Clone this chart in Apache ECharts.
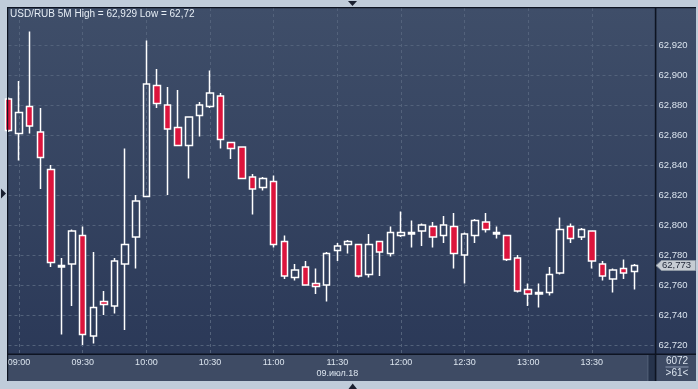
<!DOCTYPE html>
<html><head><meta charset="utf-8">
<script src="https://cdn.jsdelivr.net/npm/echarts@6/dist/echarts.min.js"></script>
<style>html,body{margin:0;padding:0;background:#c0ccda;}#c{width:698px;height:389px;}</style>
</head><body><div id="c"></div>
<script>
const categories = ['08:55','09:00','09:05','09:10','09:15','09:20','09:25','09:30','09:35','09:40','09:45','09:50','09:55',
'10:00','10:05','10:10','10:15','10:20','10:25','10:30','10:35','10:40','10:45','10:50','10:55',
'11:00','11:05','11:10','11:15','11:20','11:25','11:30','11:35','11:40','11:45','11:50','11:55',
'12:00','12:05','12:10','12:15','12:20','12:25','12:30','12:35','12:40','12:45','12:50','12:55',
'13:00','13:05','13:10','13:15','13:20','13:25','13:30','13:35','13:40','13:45','13:50','13:55','14:00'];
const openVals  = [62.884,62.861,62.879,62.862,62.837,62.772,62.774,62.793,62.726,62.749,62.746,62.774,62.792,
62.819,62.893,62.880,62.865,62.853,62.873,62.879,62.886,62.855,62.852,62.832,62.825,
62.829,62.789,62.765,62.772,62.761,62.760,62.783,62.787,62.787,62.767,62.789,62.781,
62.793,62.794,62.796,62.799,62.793,62.799,62.780,62.793,62.802,62.795,62.793,62.778,
62.757,62.755,62.755,62.768,62.799,62.792,62.796,62.774,62.764,62.771,62.769];
const closeVals = [62.863,62.875,62.866,62.845,62.775,62.773,62.796,62.727,62.745,62.747,62.776,62.787,62.816,
62.894,62.881,62.864,62.853,62.872,62.880,62.888,62.857,62.851,62.831,62.824,62.831,
62.787,62.766,62.770,62.760,62.759,62.781,62.786,62.789,62.766,62.787,62.782,62.795,
62.795,62.795,62.800,62.792,62.800,62.781,62.794,62.803,62.797,62.794,62.777,62.756,
62.754,62.754,62.767,62.797,62.791,62.797,62.776,62.766,62.770,62.768,62.773];
const lowVals   = [62.862,62.843,62.861,62.824,62.772,62.727,62.746,62.720,62.721,62.740,62.741,62.730,62.771,
62.819,62.878,62.820,62.853,62.831,62.859,62.878,62.851,62.844,62.831,62.807,62.823,
62.785,62.764,62.763,62.760,62.754,62.749,62.776,62.781,62.765,62.765,62.766,62.779,
62.792,62.785,62.786,62.785,62.788,62.771,62.761,62.788,62.795,62.791,62.776,62.755,
62.746,62.745,62.753,62.767,62.788,62.790,62.771,62.763,62.755,62.764,62.757];
const highVals  = [62.885,62.896,62.929,62.878,62.840,62.778,62.797,62.799,62.782,62.756,62.778,62.851,62.820,
62.923,62.904,62.892,62.890,62.872,62.882,62.903,62.888,62.855,62.852,62.834,62.832,
62.833,62.793,62.774,62.776,62.771,62.782,62.788,62.790,62.787,62.794,62.789,62.799,
62.809,62.803,62.801,62.802,62.806,62.808,62.795,62.804,62.808,62.799,62.793,62.780,
62.761,62.761,62.772,62.805,62.801,62.798,62.796,62.776,62.771,62.777,62.774];
const timeLabels = ['09:00','09:30','10:00','10:30','11:00','11:30','12:00','12:30','13:00','13:30'];
const dateAnchor = '11:30';
const dateLabel = '09.июл.18';
const yTicks = [62.72,62.74,62.76,62.78,62.80,62.82,62.84,62.86,62.88,62.90,62.92];
const titleText = 'USD/RUB 5M High = 62,929 Low = 62,72';
const lastPrice = 62.773;
const counterTop = '6072';
const counterBottom = '>61<';

const FONT = '"Liberation Sans", Arial, sans-serif';
const LBL = '#dbe4ee';
const fmt = v => v.toFixed(3).replace('.', ',');
const candleData = openVals.map((o, i) => [o, closeVals[i], lowVals[i], highVals[i]]);

const chart = echarts.init(document.getElementById('c'), null, {renderer: 'canvas'});
chart.setOption({
  animation: false,
  backgroundColor: '#c0ccda',
  title: {text: titleText, left: 10, top: 9, padding: 0,
    textStyle: {color: '#e6edf5', fontSize: 10, fontWeight: 'normal', fontFamily: FONT}},
  grid: {left: 8.5, right: 42.5, top: 8, bottom: 35},
  xAxis: {
    type: 'category', data: categories, boundaryGap: false,
    axisLine: {show: false}, axisTick: {show: false},
    axisLabel: {interval: (i, v) => timeLabels.includes(v),
      formatter: v => v === dateAnchor ? v + '\n' + dateLabel : v,
      color: LBL, fontSize: 9, fontFamily: FONT, margin: 3.5, lineHeight: 10.5},
    splitLine: {show: true, interval: (i, v) => timeLabels.includes(v),
      lineStyle: {color: '#53627b', type: [3, 3], width: 1}}
  },
  yAxis: {
    type: 'value', position: 'right', min: 62.714, max: 62.944667,
    axisLine: {show: false},
    axisTick: {show: false, customValues: yTicks},
    axisLabel: {customValues: yTicks, formatter: fmt, color: LBL, fontSize: 9.5, fontFamily: FONT, margin: 3},
    splitLine: {show: true, lineStyle: {color: '#53627b', type: [3, 3], width: 1}}
  },
  series: [{
    type: 'candlestick', data: candleData, barWidth: 7, clip: true,
    itemStyle: {color: 'rgba(0,0,0,0)', color0: '#dc143c', borderColor: '#ffffff', borderColor0: '#ffffff', borderWidth: 1.5}
  }]
});

const py = chart.convertToPixel({yAxisIndex: 0}, lastPrice);
const dark = '#0e1422';
chart.setOption({
  graphic: [
    {type: 'rect', z: -10, shape: {x: 8, y: 8, width: 688, height: 346},
      style: {fill: new echarts.graphic.LinearGradient(0, 0, 0, 1, [{offset: 0, color: '#3f4e69'}, {offset: 1, color: '#2b3958'}])}},
    {type: 'rect', z: -10, shape: {x: 8, y: 355, width: 688, height: 26}, style: {fill: '#3e4b64'}},
    {type: 'rect', z: -9, shape: {x: 647, y: 355, width: 8, height: 26}, style: {fill: '#26334b'}},
    {type: 'rect', z: -9, shape: {x: 647, y: 355, width: 1.5, height: 26}, style: {fill: '#4a5870'}},
    {type: 'rect', z: 50, shape: {x: 7, y: 7, width: 689, height: 1.2}, style: {fill: dark}},
    {type: 'rect', z: 50, shape: {x: 7, y: 7, width: 1.2, height: 374}, style: {fill: dark}},
    {type: 'rect', z: 50, shape: {x: 8, y: 353.5, width: 688, height: 1.6}, style: {fill: dark}},
    {type: 'rect', z: 50, shape: {x: 654.8, y: 8, width: 1.6, height: 373}, style: {fill: dark}},
    {type: 'polygon', z: 60, shape: {points: [[656, py], [661.5, py - 5], [695.5, py - 5], [695.5, py + 5], [661.5, py + 5]]},
      style: {fill: '#c6ccd3', stroke: '#8e98a4', lineWidth: 1}},
    {type: 'text', z: 61, x: 662, y: py, style: {text: fmt(lastPrice), fill: '#1c2434', font: '9.5px ' + FONT,
      textAlign: 'left', textVerticalAlign: 'middle', align: 'left', verticalAlign: 'middle'}},
    {type: 'text', z: 61, x: 677, y: 361.5, style: {text: counterTop, fill: LBL, font: '10px ' + FONT,
      textAlign: 'center', textVerticalAlign: 'middle', align: 'center', verticalAlign: 'middle'}},
    {type: 'rect', z: 61, shape: {x: 665.5, y: 366.5, width: 23, height: 1}, style: {fill: '#8d9bb0'}},
    {type: 'text', z: 61, x: 677, y: 373, style: {text: counterBottom, fill: LBL, font: '10px ' + FONT,
      textAlign: 'center', textVerticalAlign: 'middle', align: 'center', verticalAlign: 'middle'}},
    {type: 'polygon', z: 61, shape: {points: [[348, 1], [357, 1], [352.5, 6]]}, style: {fill: '#1a2030'}},
    {type: 'polygon', z: 61, shape: {points: [[348.5, 389], [357, 389], [352.7, 383.5]]}, style: {fill: '#1a2030'}},
    {type: 'polygon', z: 61, shape: {points: [[1, 188.5], [1, 198.5], [6, 193.5]]}, style: {fill: '#1a2030'}}
  ]
});
</script>
</body></html>
